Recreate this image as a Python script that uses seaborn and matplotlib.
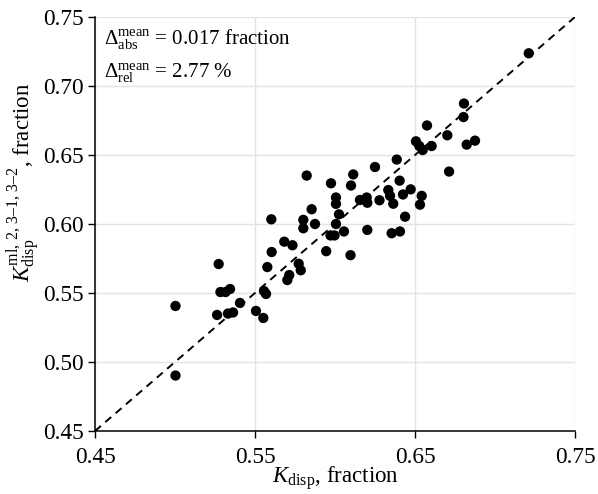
import matplotlib
matplotlib.use("Agg")
import matplotlib.pyplot as plt
import seaborn as sns
import pandas as pd

# data
k_disp = [0.5273, 0.5003, 0.5284, 0.5316, 0.5344, 0.5263, 0.5331, 0.5363, 0.5406, 0.5506,
          0.5552, 0.5556, 0.5569, 0.5577, 0.5604, 0.5003, 0.5823, 0.5602, 0.5975, 0.6114,
          0.6100, 0.6250, 0.6006, 0.6006, 0.5854, 0.5802, 0.5802, 0.5875, 0.6025, 0.6006,
          0.5972, 0.5997, 0.6056, 0.6156, 0.6198, 0.6202, 0.6278, 0.6202, 0.5945, 0.6097,
          0.5683, 0.5734, 0.5773, 0.5786, 0.5714, 0.5702, 0.6806, 0.6803, 0.6575, 0.6702,
          0.6823, 0.6875, 0.6506, 0.6527, 0.6548, 0.6604, 0.6713, 0.6386, 0.6404, 0.6333,
          0.6344, 0.6425, 0.6473, 0.6542, 0.6531, 0.6364, 0.6438, 0.6354, 0.6406, 0.7211]
k_model = [0.5710, 0.5406, 0.5507, 0.5507, 0.5529, 0.5341, 0.5351, 0.5359, 0.5428, 0.5370,
           0.5319, 0.5514, 0.5493, 0.5688, 0.5797, 0.4902, 0.6351, 0.6034, 0.6295, 0.6359,
           0.6279, 0.6413, 0.6192, 0.6146, 0.6107, 0.6030, 0.5969, 0.6000, 0.6070, 0.6000,
           0.5917, 0.5917, 0.5946, 0.6174, 0.6192, 0.6154, 0.6172, 0.5957, 0.5803, 0.5774,
           0.5872, 0.5846, 0.5712, 0.5665, 0.5630, 0.5594, 0.6873, 0.6775, 0.6714, 0.6643,
           0.6575, 0.6604, 0.6599, 0.6565, 0.6536, 0.6565, 0.6380, 0.6467, 0.6314, 0.6246,
           0.6204, 0.6214, 0.6251, 0.6204, 0.6140, 0.6147, 0.6053, 0.5933, 0.5946, 0.7237]
diag = [0.45, 0.75]
x_ticks = [0.45, 0.55, 0.65, 0.75]
y_ticks = [0.45, 0.50, 0.55, 0.60, 0.65, 0.70, 0.75]
delta_abs = "0.017"
delta_rel = "2.77"

sns.set_theme(style="whitegrid")
plt.rcParams["font.family"] = ["Liberation Serif", "DejaVu Serif"]
plt.rcParams["mathtext.fontset"] = "custom"
plt.rcParams["mathtext.rm"] = "Liberation Serif"
plt.rcParams["mathtext.it"] = "Liberation Serif:italic"
plt.rcParams["mathtext.bf"] = "Liberation Serif:bold"

df = pd.DataFrame({"x": k_disp, "y": k_model})
ddf = pd.DataFrame({"x": diag, "y": diag})

fig = plt.figure(figsize=(5.98, 4.94), dpi=100)
ax = fig.add_axes([95 / 598, 1 - 431 / 494, 480 / 598, 414 / 494])

sns.lineplot(data=ddf, x="x", y="y", ax=ax, color="black", linestyle=(0, (4, 3)),
             linewidth=1.4, zorder=2)
sns.scatterplot(data=df, x="x", y="y", ax=ax, color="black", s=55, edgecolor="none",
                zorder=3)

ax.set_xlim(0.45, 0.75)
ax.set_ylim(0.45, 0.75)
ax.set_xticks(x_ticks)
ax.set_yticks(y_ticks)
ax.set_xticklabels([f"{t:.2f}" for t in x_ticks])
ax.set_yticklabels([f"{t:.2f}" for t in y_ticks])
ax.tick_params(axis="both", labelsize=16.8, length=5, width=1, color="black",
               direction="out", labelcolor="black")
ax.tick_params(axis="x", bottom=True, pad=6.5)
ax.tick_params(axis="y", left=True, pad=3)
ax.grid(True, color="#e3e3e3", linewidth=1)
ax.set_axisbelow(True)

for side in ["top", "right"]:
    ax.spines[side].set_visible(False)
for side in ["left", "bottom"]:
    ax.spines[side].set_color("black")
    ax.spines[side].set_linewidth(1.1)

ax.set_xlabel(r"$K_{\mathrm{disp}}$, fraction", fontsize=16.5, color="black", labelpad=-3)
ax.set_ylabel(r"$K_{\mathrm{disp}}^{\mathrm{ml,\,2,\,3–1,\,3–2}}$, fraction",
              fontsize=16.5, color="black")
ax.yaxis.set_label_coords(-0.108, 0.601)

ax.text(0.019, 0.935, r"$\Delta_{\mathrm{abs}}^{\mathrm{mean}}$ = " + delta_abs + " fraction",
        transform=ax.transAxes, fontsize=15, va="baseline", ha="left", color="black")
ax.text(0.019, 0.853, r"$\Delta_{\mathrm{rel}}^{\mathrm{mean}}$ = " + delta_rel + " %",
        transform=ax.transAxes, fontsize=15, va="baseline", ha="left", color="black")

fig.savefig("out.png", dpi=100)
